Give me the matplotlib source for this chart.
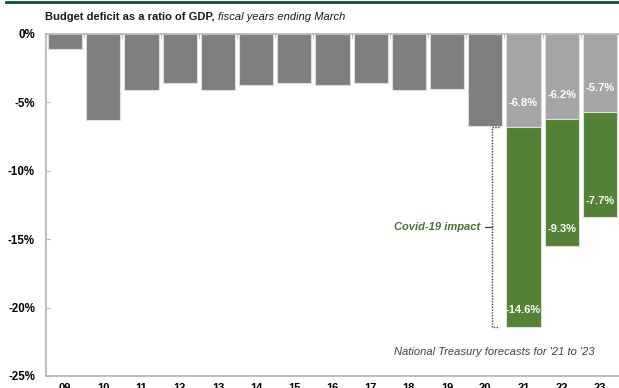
import matplotlib
matplotlib.use("Agg")
import matplotlib.pyplot as plt
import numpy as np

plt.rcParams['font.family'] = ['Liberation Sans', 'DejaVu Sans']

# Fiscal years ending March (2009 .. 2023)
years = ["09", "10", "11", "12", "13", "14", "15", "16", "17", "18", "19", "20", "21", "22", "23"]
# Budget deficit (% of GDP), actual outcomes up to '20
actual = [-1.1, -6.3, -4.1, -3.6, -4.1, -3.7, -3.6, -3.7, -3.6, -4.1, -4.0, -6.7]
# National Treasury forecasts for '21 to '23: pre-Covid baseline and Covid-19 impact
baseline = [-6.8, -6.2, -5.7]
covid = [-14.6, -9.3, -7.7]

DARK_GREY = "#7f7f7f"
LIGHT_GREY = "#a5a5a5"
GREEN = "#538135"
EDGE = "#dedede"
AXIS = "#b3b3b3"

fig = plt.figure(figsize=(6.19, 3.88), dpi=100)
fig.patch.set_facecolor("white")

# Dark green rule along the top edge
fig.add_artist(plt.Line2D([6 / 619, 1.0], [1 - 1.5 / 388, 1 - 1.5 / 388],
                          transform=fig.transFigure, color="#0b5134", lw=2))

ax = fig.add_axes([46 / 619, 12 / 388, (619 - 46) / 619, 342 / 388])

x = np.arange(len(years))
w = 0.9
n_act = len(actual)
ax.bar(x[:n_act], actual, width=w, color=DARK_GREY, edgecolor=EDGE, linewidth=0.8)
fx = x[n_act:]
ax.bar(fx, baseline, width=w, color=LIGHT_GREY, edgecolor=EDGE, linewidth=0.8)
ax.bar(fx, covid, width=w, bottom=baseline, color=GREEN, edgecolor=EDGE, linewidth=0.8)

# Value labels inside the forecast segments
for xi, b, c in zip(fx, baseline, covid):
    ax.annotate(f"{b:.1f}%", (xi, b), xytext=(0, 17), textcoords="offset points",
                ha="center", va="center", color="white", fontsize=8, fontweight="bold")
    ax.annotate(f"{c:.1f}%", (xi, b + c), xytext=(0, 12), textcoords="offset points",
                ha="center", va="center", color="white", fontsize=8, fontweight="bold")

# Bracket marking the Covid-19 impact on the '21 bar
b0, c0 = baseline[0], covid[0]
bx = fx[0] - 0.83
ex = fx[0] - 0.64
ax.plot([ex, bx, bx, ex], [b0, b0, b0 + c0, b0 + c0], color="#404040", lw=1.0,
        linestyle=(0, (1, 1)), clip_on=False)
mid = b0 + c0 / 2
ax.plot([bx, bx - 0.17], [mid, mid], color="#404040", lw=0.9)
ax.text(bx - 0.3, mid, "Covid-19 impact", ha="right", va="center", color="#4a7331",
        fontsize=8, fontweight="bold", fontstyle="italic")

ax.text(13.85, -23.25, "National Treasury forecasts for '21 to '23", ha="right",
        va="center", fontsize=8, fontstyle="italic", color="#404040")

ax.set_xlim(-0.5, 14.39)
ax.set_ylim(-25, 0)
ax.set_yticks(np.arange(-25, 1, 5))
ax.set_yticklabels([f"{v}%" for v in range(-25, 1, 5)], fontsize=8.3, fontweight="bold")
ax.set_xticks(x)
ax.set_xticklabels(years, fontsize=8, fontweight="bold")
ax.tick_params(axis="x", which="major", length=0, pad=5)
ax.tick_params(axis="y", direction="in", length=3, color=AXIS, pad=8)
ax.set_xticks(np.arange(-0.5, len(years), 1), minor=True)
ax.tick_params(axis="x", which="minor", top=True, bottom=False, direction="in",
               length=3, color=AXIS)

for side in ["left", "bottom", "top"]:
    ax.spines[side].set_color(AXIS)
    ax.spines[side].set_linewidth(1.2)
ax.spines["right"].set_visible(False)

# Title: bold lead followed by italic qualifier
t1 = fig.text(45 / 619, 1 - 17 / 388, "Budget deficit as a ratio of GDP,", fontsize=8,
              fontweight="bold", va="center", ha="left", color="#1a1a1a")
fig.canvas.draw()
bb = t1.get_window_extent()
fig.text((bb.x1 + 3) / fig.bbox.width, 1 - 17 / 388, "fiscal years ending March",
         fontsize=8, fontstyle="italic", va="center", ha="left", color="#1a1a1a")

fig.savefig("out.png", dpi=100, facecolor="white")
